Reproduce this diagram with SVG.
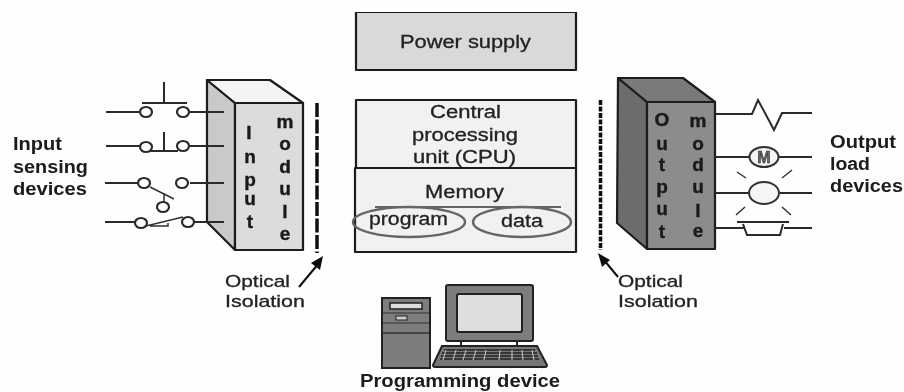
<svg xmlns="http://www.w3.org/2000/svg" width="904" height="392" viewBox="0 0 904 392">
<style>
text{font-family:"Liberation Sans",Arial,sans-serif;font-size:18px;fill:#222;stroke:#222;stroke-width:.3}
.b{font-weight:bold;font-size:18px;stroke:none;fill:#1a1a1a}
.l{font-weight:bold;font-size:19px;text-anchor:middle;fill:#1a1a1a;stroke:#1a1a1a;stroke-width:.4}
.i{font-size:17px}
.w{fill:none;stroke:#2a2a2a;stroke-width:2}
.t{fill:none;stroke:#333;stroke-width:1.5}
.o{fill:#fff;stroke:#2a2a2a;stroke-width:2.2}
.box{stroke:#1c1c1c;stroke-width:2.2;stroke-linejoin:round}
</style>
<defs><filter id="s" x="0" y="0" width="100%" height="100%"><feGaussianBlur stdDeviation="0.4"/></filter></defs>
<rect width="904" height="392" fill="#fefefe"/>
<g filter="url(#s)">
<g id="power-supply"><rect class="box" x="356" y="12" width="220" height="58" fill="#d9d9d9"/><text x="400" y="48" textLength="131" lengthAdjust="spacingAndGlyphs">Power supply</text></g>
<g id="cpu"><rect class="box" x="356" y="100" width="220" height="68" fill="#f1f1f1"/><text x="430" y="118" textLength="71" lengthAdjust="spacingAndGlyphs">Central</text><text x="412" y="141" textLength="106" lengthAdjust="spacingAndGlyphs">processing</text><text x="413" y="163" textLength="103" lengthAdjust="spacingAndGlyphs">unit (CPU)</text></g>
<g id="memory"><rect class="box" x="355" y="168" width="221" height="84" fill="#f1f1f1"/><text x="425" y="198" textLength="79" lengthAdjust="spacingAndGlyphs">Memory</text><path d="M375 207H561" stroke="#333" stroke-width="1.5"/></g>
<g id="program"><ellipse cx="409" cy="222" rx="56" ry="15" fill="none" stroke="#666" stroke-width="2.4"/><text x="369" y="225" textLength="79" lengthAdjust="spacingAndGlyphs">program</text></g>
<g id="data"><ellipse cx="522" cy="222" rx="49" ry="15" fill="none" stroke="#666" stroke-width="2.4"/><text x="501" y="227" textLength="42" lengthAdjust="spacingAndGlyphs">data</text></g>
<g id="input-module">
<path class="box" d="M207 80L235 103V250L207 222Z" fill="#c9c9c9"/>
<path class="box" d="M207 80H270L303 103H235Z" fill="#f4f4f4"/>
<rect class="box" x="235" y="103" width="68" height="147" fill="#dcdcdc"/>
<text class="l" x="249" y="139">I</text><text class="l" x="250" y="163">n</text><text class="l" x="250" y="186">p</text><text class="l" x="250" y="205">u</text><text class="l" x="250" y="228">t</text>
<text class="l" x="285" y="128">m</text><text class="l" x="285" y="150">o</text><text class="l" x="285" y="173">d</text><text class="l" x="285" y="195">u</text><text class="l" x="285" y="218">l</text><text class="l" x="285" y="240">e</text>
</g>
<g id="output-module">
<path class="box" d="M618 78L647 102V249L617 223Z" fill="#6c6c6c"/>
<path class="box" d="M618 78H683L715 102H647Z" fill="#7a7a7a"/>
<rect class="box" x="647" y="102" width="68" height="147" fill="#8c8c8c"/>
<text class="l" x="662" y="126">O</text><text class="l" x="662" y="150">u</text><text class="l" x="662" y="171">t</text><text class="l" x="662" y="193">p</text><text class="l" x="662" y="215">u</text><text class="l" x="662" y="238">t</text>
<text class="l" x="698" y="127">m</text><text class="l" x="698" y="150">o</text><text class="l" x="698" y="171">d</text><text class="l" x="698" y="193">u</text><text class="l" x="698" y="217">l</text><text class="l" x="698" y="237">e</text>
</g>
<g id="input-label"><text class="b" x="13" y="150" textLength="49" lengthAdjust="spacingAndGlyphs">Input</text><text class="b" x="13" y="173" textLength="75" lengthAdjust="spacingAndGlyphs">sensing</text><text class="b" x="13" y="195" textLength="74" lengthAdjust="spacingAndGlyphs">devices</text></g>
<g id="output-label"><text class="b" x="830" y="148" textLength="66" lengthAdjust="spacingAndGlyphs">Output</text><text class="b" x="830" y="170" textLength="40" lengthAdjust="spacingAndGlyphs">load</text><text class="b" x="830" y="192" textLength="73" lengthAdjust="spacingAndGlyphs">devices</text></g>
<g id="optical-left"><text class="i" x="225" y="287" textLength="65" lengthAdjust="spacingAndGlyphs">Optical</text><text class="i" x="225" y="307" textLength="80" lengthAdjust="spacingAndGlyphs">Isolation</text></g>
<g id="optical-right"><text class="i" x="618" y="287" textLength="65" lengthAdjust="spacingAndGlyphs">Optical</text><text class="i" x="618" y="307" textLength="80" lengthAdjust="spacingAndGlyphs">Isolation</text></g>
<g id="programming-device">
<rect x="382" y="298" width="48" height="70" fill="#7d7d7d" stroke="#222" stroke-width="2"/>
<rect x="390" y="303" width="32" height="6" fill="#ddd" stroke="#222" stroke-width="1.5"/>
<path d="M383 313H429M383 323H429" stroke="#333" stroke-width="1.2"/>
<path d="M383 333H429" stroke="#333" stroke-width="1.5"/>
<rect x="396" y="316" width="11" height="4" fill="#ccc" stroke="#222"/>
<rect x="446" y="285" width="87" height="56" rx="2" fill="#7d7d7d" stroke="#222" stroke-width="2"/>
<rect x="457" y="294" width="65" height="38" rx="2" fill="#dedede" stroke="#222" stroke-width="2"/>
<path d="M461 341V346M517 341V346" stroke="#222" stroke-width="2"/>
<path d="M442 346H537L547 365Q547 367 545 367H435Q433 367 433 365Z" fill="#777" stroke="#222" stroke-width="2"/>
<path d="M444 350H535M442 353H537M441 356H538M440 359H539" stroke="#222" stroke-width="1.6"/>
<path d="M446 350l-3 10M456 350l-3 10M466 350l-3 10M476 350l-3 10M486 350l-2 10M500 350l-1 10M512 350v10M522 350l1 10M532 350l2 10" stroke="#ccc" stroke-width="1"/>
<text class="b" x="360" y="387" textLength="200" lengthAdjust="spacingAndGlyphs">Programming device</text>
</g>
<g id="connectors">
<path d="M317 103V253" fill="none" stroke="#111" stroke-width="3.5" stroke-dasharray="14 2.5"/>
<path d="M600.500 100V250" fill="none" stroke="#111" stroke-width="3.5" stroke-dasharray="5 1.5"/>
<path d="M299 287L319 263" stroke="#111" stroke-width="2"/><path d="M323 256L320 270L311 263Z" fill="#111"/>
<path d="M618 277L604 260" stroke="#111" stroke-width="2"/><path d="M598 253L610 260L602 267Z" fill="#111"/>
<path class="w" d="M106 112H140M190 112H224M164 82V102M142 103H187"/>
<ellipse class="o" cx="146" cy="112" rx="6" ry="5"/><ellipse class="o" cx="183" cy="112" rx="6" ry="5"/>
<path class="w" d="M106 146H140M190 146H224M164 132V151M150 151H178"/>
<ellipse class="o" cx="146" cy="147" rx="6" ry="5"/><ellipse class="o" cx="183" cy="146" rx="6" ry="5"/>
<path class="w" d="M105 183H138M190 183H224"/>
<path class="t" d="M150 187L174 199M164 193V202"/>
<ellipse class="o" cx="144" cy="183" rx="6" ry="5"/><ellipse class="o" cx="182" cy="183" rx="6" ry="5"/><ellipse class="o" cx="163" cy="207" rx="6" ry="5"/>
<path class="w" d="M105 222H135M194 222H224"/>
<path class="t" d="M146 226L183 217M150 226H168V223"/>
<ellipse class="o" cx="141" cy="223" rx="6" ry="5"/><ellipse class="o" cx="188" cy="222" rx="6" ry="5"/>
<path class="w" d="M715 114H752L758 100L774 130L782 113H812"/>
<path class="w" d="M715 157H750M779 157H812M715 193H750M779 193H812M715 228H745M784 228H812"/>
<ellipse cx="764" cy="157" rx="14.500" ry="10" fill="#f5f5f5" stroke="#333" stroke-width="2"/>
<text x="764" y="163" text-anchor="middle" style="font-size:16px;font-weight:bold;fill:#666;stroke:#222;stroke-width:.5">M</text>
<ellipse cx="764" cy="193" rx="15" ry="11" fill="#f5f5f5" stroke="#333" stroke-width="2"/>
<path class="t" d="M737 172L746 178M792 170L782 178M736 215L745 207M791 215L782 207"/>
<path class="w" d="M737 222H789M743 224L747 235H780L783 224"/>
</g>
</g>
</svg>
